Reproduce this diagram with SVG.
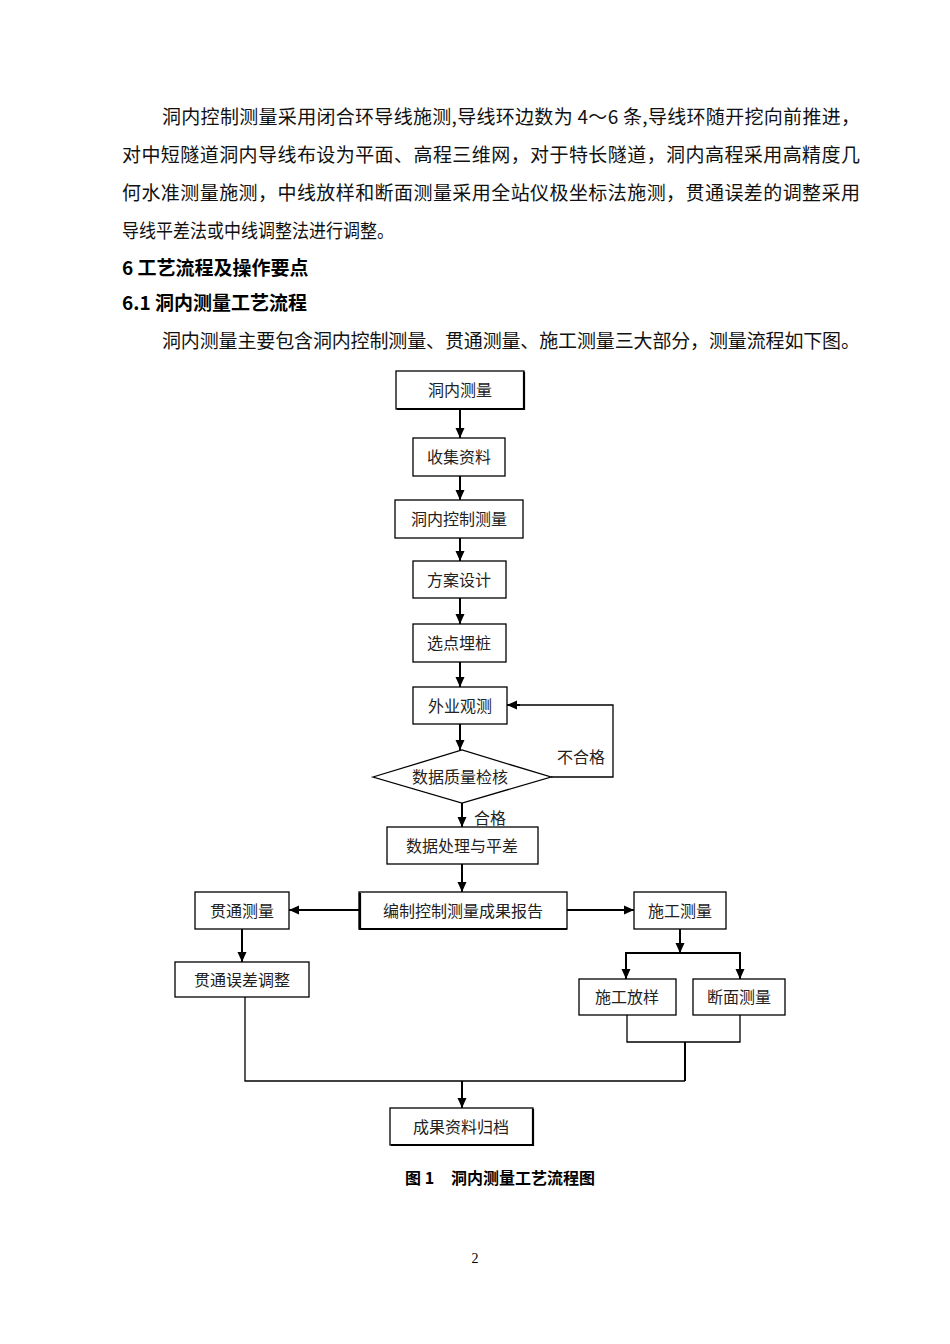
<svg xmlns="http://www.w3.org/2000/svg" width="950" height="1344" viewBox="0 0 950 1344">
<style>
.body{font-family:"Noto Sans CJK SC","Liberation Serif",sans-serif;font-size:19px;fill:#111}
.head{font-family:"Noto Sans CJK SC","Liberation Sans",sans-serif;font-size:19px;font-weight:bold;fill:#000}
.box{fill:#fff;stroke:#000;stroke-width:1.3}
.shadow{fill:none;stroke:#000;stroke-width:2.2}
.lbl{font-family:"Noto Sans CJK SC","Liberation Sans",sans-serif;font-size:16px;fill:#222;text-anchor:middle}
.arr{fill:none;stroke:#000;stroke-width:2;marker-end:url(#ah)}
.ln{fill:none;stroke:#000;stroke-width:1.3}
.lnb{fill:none;stroke:#000;stroke-width:2}
</style>
<defs>
<marker id="ah" markerUnits="userSpaceOnUse" markerWidth="10" markerHeight="10" refX="10" refY="5" orient="auto">
<path d="M0,0.5 L10,5 L0,9.5 z" fill="#000"/>
</marker>
</defs>
<rect width="950" height="1344" fill="#fff"/>
<g id="text">
<text class="body" x="162" y="124" textLength="698" lengthAdjust="spacing">洞内控制测量采用闭合环导线施测,导线环边数为 4～6 条,导线环随开挖向前推进，</text>
<text class="body" x="122" y="162" textLength="738" lengthAdjust="spacing">对中短隧道洞内导线布设为平面、高程三维网，对于特长隧道，洞内高程采用高精度几</text>
<text class="body" x="122" y="200" textLength="738" lengthAdjust="spacing">何水准测量施测，中线放样和断面测量采用全站仪极坐标法施测，贯通误差的调整采用</text>
<text class="body" x="122" y="238" textLength="272" lengthAdjust="spacingAndGlyphs">导线平差法或中线调整法进行调整。</text>
<text class="head" x="122" y="275">6 工艺流程及操作要点</text>
<text class="head" x="122" y="310">6.1 洞内测量工艺流程</text>
<text class="body" x="162" y="348" textLength="698" lengthAdjust="spacing">洞内测量主要包含洞内控制测量、贯通测量、施工测量三大部分，测量流程如下图。</text>
</g>
<g id="connectors">
<line class="arr" x1="460" y1="410" x2="460" y2="438"/>
<line class="arr" x1="460" y1="476" x2="460" y2="500"/>
<line class="arr" x1="460" y1="538" x2="460" y2="561"/>
<line class="arr" x1="460" y1="598" x2="460" y2="624"/>
<line class="arr" x1="460" y1="662" x2="460" y2="687"/>
<line class="arr" x1="460" y1="724" x2="460" y2="750"/>
<polyline class="ln" points="551,777 613,777 613,705 520,705"/>
<line class="arr" x1="520" y1="705" x2="507" y2="705"/>
<line class="arr" x1="462" y1="803" x2="462" y2="827"/>
<line class="arr" x1="462" y1="864" x2="462" y2="892"/>
<line class="arr" x1="359" y1="910" x2="289" y2="910"/>
<line class="arr" x1="567" y1="910" x2="634" y2="910"/>
<line class="arr" x1="242" y1="929" x2="242" y2="962"/>
<line class="arr" x1="680" y1="929" x2="680" y2="953"/>
<polyline class="lnb" points="626,979 626,953 740,953 740,979"/>
<line class="arr" x1="626" y1="953" x2="626" y2="979"/>
<line class="arr" x1="740" y1="953" x2="740" y2="979"/>
<polyline class="ln" points="627,1015 627,1042 740,1042 740,1015"/>
<line class="lnb" x1="685" y1="1042" x2="685" y2="1081"/>
<polyline class="ln" points="245,997 245,1081 685,1081"/>
<line class="arr" x1="462" y1="1081" x2="462" y2="1108"/>
</g>
<g id="n1"><rect class="box" x="396" y="371" width="128" height="38"/><polyline class="shadow" points="397,409 524,409 524,372"/><text class="lbl" x="460" y="396">洞内测量</text></g>
<g id="n2"><rect class="box" x="413" y="438" width="92" height="38"/><text class="lbl" x="459" y="463">收集资料</text></g>
<g id="n3"><rect class="box" x="395" y="500" width="128" height="38"/><text class="lbl" x="459" y="525">洞内控制测量</text></g>
<g id="n4"><rect class="box" x="413" y="561" width="93" height="37"/><text class="lbl" x="459" y="586">方案设计</text></g>
<g id="n5"><rect class="box" x="413" y="624" width="93" height="38"/><text class="lbl" x="459" y="649">选点埋桩</text></g>
<g id="n6"><rect class="box" x="413" y="687" width="94" height="37"/><text class="lbl" x="460" y="712">外业观测</text></g>
<g id="n7"><polygon class="box" points="373,777 462,750 551,777 462,803"/><text class="lbl" x="460" y="783">数据质量检核</text></g>
<g id="lbl-fail"><text class="lbl" x="581" y="763">不合格</text></g>
<g id="lbl-pass"><text class="lbl" x="490" y="824">合格</text></g>
<g id="n8"><rect class="box" x="387" y="827" width="151" height="37"/><text class="lbl" x="462" y="852">数据处理与平差</text></g>
<g id="n9"><rect class="box" x="359" y="892" width="208" height="37"/><polyline class="shadow" points="360,893 360,929 567,929"/><text class="lbl" x="463" y="917">编制控制测量成果报告</text></g>
<g id="n10"><rect class="box" x="195" y="892" width="94" height="37"/><text class="lbl" x="242" y="917">贯通测量</text></g>
<g id="n11"><rect class="box" x="634" y="892" width="92" height="37"/><text class="lbl" x="680" y="917">施工测量</text></g>
<g id="n12"><rect class="box" x="175" y="962" width="134" height="35"/><text class="lbl" x="242" y="986">贯通误差调整</text></g>
<g id="n13"><rect class="box" x="579" y="979" width="97" height="36"/><text class="lbl" x="627" y="1003">施工放样</text></g>
<g id="n14"><rect class="box" x="693" y="979" width="92" height="36"/><text class="lbl" x="739" y="1003">断面测量</text></g>
<g id="n15"><rect class="box" x="390" y="1108" width="143" height="37"/><polyline class="shadow" points="391,1145 533,1145 533,1109"/><text class="lbl" x="461" y="1133">成果资料归档</text></g>
<g id="caption">
<text x="405" y="1184" font-family="Noto Sans CJK SC, sans-serif" font-size="16" font-weight="bold" fill="#000">图 1</text>
<text x="451" y="1184" font-family="Noto Sans CJK SC, sans-serif" font-size="16" font-weight="bold" fill="#000">洞内测量工艺流程图</text>
<text x="475" y="1263" font-family="Liberation Serif, serif" font-size="14" fill="#000" text-anchor="middle">2</text>
</g>
</svg>
